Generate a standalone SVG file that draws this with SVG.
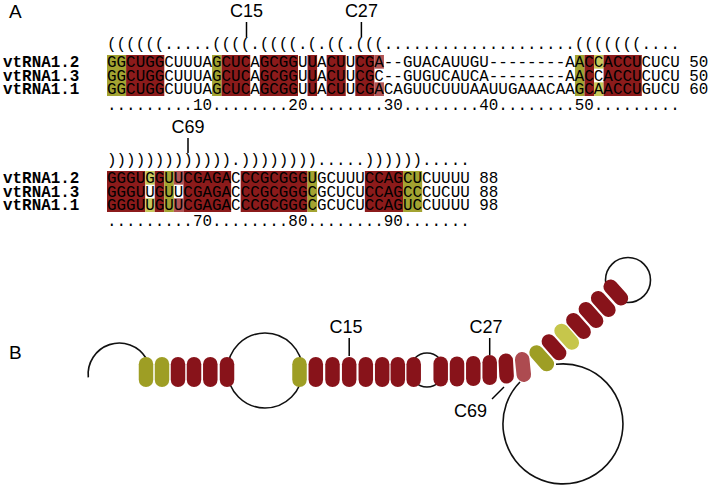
<svg xmlns="http://www.w3.org/2000/svg" xmlns:xlink="http://www.w3.org/1999/xlink" width="711" height="486" viewBox="0 0 711 486">
<style>
.mono{font-family:"Liberation Mono","DejaVu Sans Mono",monospace;font-size:15.92px;fill:#000}
.lab{font-family:"Liberation Mono","DejaVu Sans Mono",monospace;font-size:15.92px;font-weight:bold;fill:#000}
.sans{font-family:"Liberation Sans",Arial,sans-serif;font-size:18px;fill:#000}
.panel{font-family:"Liberation Sans",Arial,sans-serif;font-size:19px;fill:#000}
.R{fill:#8c1b1b}.O{fill:#a3a331}.Y{fill:#c9c95c}.L{fill:#b15454}
.r{fill:#88131a}.o{fill:#9e9e24}.y{fill:#c6c64b}.l{fill:#ad4b50}
.tick{stroke:#000;stroke-width:1.5;fill:none}
.loop{stroke:#111;stroke-width:1.6;fill:none}
</style>
<defs>
<rect id="pill" x="-7.25" y="-15" width="14.5" height="30" rx="7.25"/>
</defs>

<g id="panel-a">
<text class="panel" x="9" y="18">A</text>
<g id="highlights-1">
<rect class="O" x="107" y="55" width="19.1" height="41"/>
<rect class="R" x="126.1" y="55" width="38.2" height="41"/>
<rect class="O" x="212.05" y="55" width="9.55" height="41"/>
<rect class="R" x="221.6" y="55" width="28.65" height="41"/>
<rect class="R" x="259.8" y="55" width="38.2" height="41"/>
<rect class="R" x="307.55" y="55" width="9.55" height="41"/>
<rect class="R" x="326.65" y="55" width="19.1" height="41"/>
<rect class="R" x="355.3" y="55" width="19.1" height="41"/>
<rect class="L" x="374.4" y="55" width="9.55" height="13.67"/>
<rect class="L" x="374.4" y="82.33" width="9.55" height="13.67"/>
<rect class="O" x="574.95" y="55" width="9.55" height="41"/>
<rect class="R" x="584.5" y="55" width="9.55" height="41"/>
<rect class="Y" x="594.05" y="55" width="9.55" height="13.67"/>
<rect class="Y" x="594.05" y="82.33" width="9.55" height="13.67"/>
<rect class="R" x="603.6" y="55" width="38.2" height="41"/>
</g>
<g id="highlights-2">
<rect class="R" x="107" y="171" width="38.2" height="41"/>
<rect class="Y" x="145.2" y="171" width="9.55" height="13.67"/>
<rect class="Y" x="145.2" y="198.33" width="9.55" height="13.67"/>
<rect class="R" x="154.75" y="171" width="9.55" height="41"/>
<rect class="O" x="164.3" y="171" width="9.55" height="41"/>
<rect class="L" x="173.85" y="171" width="9.55" height="13.67"/>
<rect class="L" x="173.85" y="198.33" width="9.55" height="13.67"/>
<rect class="R" x="183.4" y="171" width="47.75" height="41"/>
<rect class="R" x="240.7" y="171" width="66.85" height="41"/>
<rect class="O" x="307.55" y="171" width="9.55" height="41"/>
<rect class="R" x="364.85" y="171" width="38.2" height="41"/>
<rect class="O" x="403.05" y="171" width="19.1" height="41"/>
</g>
<g id="block-1">
<text class="mono" x="107" y="48.5">((((((.....((((.((((.(.((.(((....................(((((((....</text>
<text class="lab" x="3" y="67">vtRNA1.2</text>
<text class="lab" x="3" y="80.5">vtRNA1.3</text>
<text class="lab" x="3" y="94">vtRNA1.1</text>
<text class="mono" x="107" y="67">GGCUGGCUUUAGCUCAGCGGUUACUUCGA--GUACAUUGU--------AACCACCUCUCU 50</text>
<text class="mono" x="107" y="80.5">GGCUGGCUUUAGCUCAGCGGUUACUUCGC--GUGUCAUCA--------AACCACCUCUCU 50</text>
<text class="mono" x="107" y="94">GGCUGGCUUUAGCUCAGCGGUUACUUCGACAGUUCUUUAAUUGAAACAAGCAACCUGUCU 60</text>
<text class="mono" x="107" y="110">.........10........20........30........40........50.........</text>
</g>
<g id="block-2">
<text class="mono" x="107" y="164.5">))))))))))))).)))))))).....)))))).....</text>
<text class="lab" x="3" y="183">vtRNA1.2</text>
<text class="lab" x="3" y="196.5">vtRNA1.3</text>
<text class="lab" x="3" y="210">vtRNA1.1</text>
<text class="mono" x="107" y="183">GGGUGGUUCGAGACCCGCGGGUGCUUUCCAGCUCUUUU 88</text>
<text class="mono" x="107" y="196.5">GGGUUGUUCGAGACCCGCGGGCGCUCUCCAGCCCUCUU 88</text>
<text class="mono" x="107" y="210">GGGUUGUUCGAGACCCGCGGGCGCUCUCCAGUCCUUUU 98</text>
<text class="mono" x="107" y="226">.........70........80........90.......</text>
</g>
<g id="markers-a">
<text class="sans" x="246.5" y="16.5" text-anchor="middle">C15</text>
<line class="tick" x1="246.5" y1="22" x2="246.5" y2="37"/>
<text class="sans" x="361.4" y="16.5" text-anchor="middle">C27</text>
<line class="tick" x1="361.4" y1="22" x2="361.4" y2="37"/>
<text class="sans" x="188" y="132.5" text-anchor="middle">C69</text>
<line class="tick" x1="188" y1="138" x2="188" y2="153"/>
</g>
</g>

<g id="panel-b">
<text class="panel" x="9" y="359">B</text>
<g id="connectors">
<path class="loop" d="M88.3 377.3 A31.2 31.2 0 0 1 146 358"/>
<circle class="loop" cx="265" cy="370.5" r="37.5"/>
<circle class="loop" cx="427" cy="370" r="17"/>
<circle class="loop" cx="628" cy="280" r="22.5"/>
<path class="loop" d="M520 382 A60 60 0 1 0 556 364.3"/>
<line class="tick" x1="349.2" y1="338" x2="349.2" y2="356"/>
<line class="tick" x1="489.7" y1="338" x2="489.7" y2="355"/>
<line class="tick" x1="492" y1="399" x2="504" y2="387"/>
</g>
<g id="stem-1">
<use xlink:href="#pill" class="o" x="146" y="372"/>
<use xlink:href="#pill" class="o" x="162" y="372"/>
<use xlink:href="#pill" class="r" x="178" y="372"/>
<use xlink:href="#pill" class="r" x="194" y="372"/>
<use xlink:href="#pill" class="r" x="210.3" y="372"/>
<use xlink:href="#pill" class="r" x="227" y="372"/>
</g>
<g id="stem-2">
<use xlink:href="#pill" class="o" x="299.5" y="372"/>
<use xlink:href="#pill" class="r" x="315.8" y="372"/>
<use xlink:href="#pill" class="r" x="332.5" y="372"/>
<use xlink:href="#pill" class="r" x="349.2" y="372"/>
<use xlink:href="#pill" class="r" x="365.8" y="372"/>
<use xlink:href="#pill" class="r" x="382.2" y="372"/>
<use xlink:href="#pill" class="r" x="397.8" y="372"/>
<use xlink:href="#pill" class="r" x="413.7" y="372"/>
<use xlink:href="#pill" class="r" x="440.7" y="371.5"/>
<use xlink:href="#pill" class="r" x="457" y="371.5"/>
<use xlink:href="#pill" class="r" x="473.3" y="371"/>
<use xlink:href="#pill" class="r" x="489.7" y="370"/>
<use xlink:href="#pill" class="r" transform="translate(506.2 368.5) rotate(-3)"/>
<use xlink:href="#pill" class="l" transform="translate(523 367) rotate(-6)"/>
</g>
<g id="stem-3">
<use xlink:href="#pill" class="o" transform="translate(541.7 358.3) rotate(-41.6)"/>
<use xlink:href="#pill" class="r" transform="translate(554 347.3) rotate(-41.6)"/>
<use xlink:href="#pill" class="y" transform="translate(566.7 336.7) rotate(-41.6)"/>
<use xlink:href="#pill" class="r" transform="translate(578.5 326) rotate(-41.6)"/>
<use xlink:href="#pill" class="r" transform="translate(591 315) rotate(-41.6)"/>
<use xlink:href="#pill" class="r" transform="translate(603.3 304) rotate(-41.6)"/>
<use xlink:href="#pill" class="r" transform="translate(615.8 292.5) rotate(-41.6)"/>
</g>
<g id="markers-b">
<text class="sans" x="346" y="333" text-anchor="middle">C15</text>
<text class="sans" x="486" y="333" text-anchor="middle">C27</text>
<text class="sans" x="487" y="417" text-anchor="end">C69</text>
</g>
</g>
</svg>
